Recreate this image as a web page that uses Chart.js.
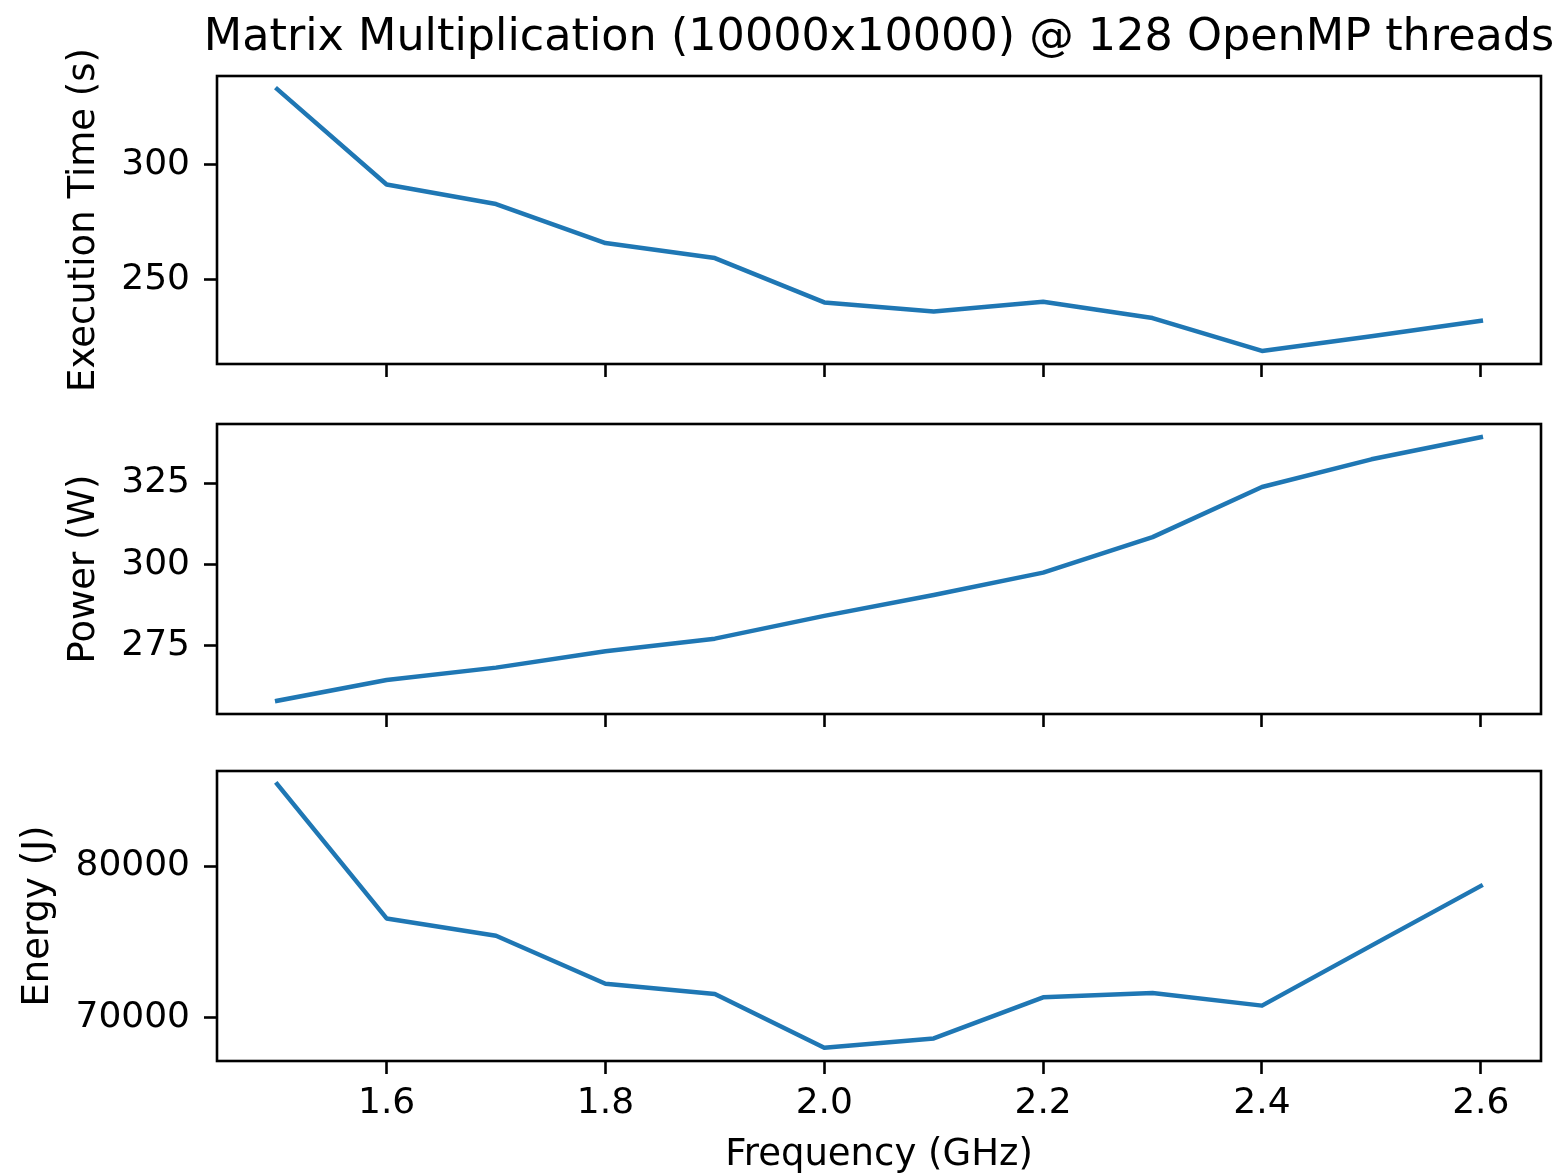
<!doctype html>
<html>

<head>
    <title>Matrix Multiplication</title>
    <script src="https://cdn.jsdelivr.net/npm/chart.js@4.4.1/dist/chart.umd.min.js"></script>
    <style>
        body {
            margin: 0;
            background: #fff;
        }

        #figure {
            position: relative;
            width: 1555px;
            height: 1174px;
        }

        #figure canvas {
            position: absolute;
            left: 0;
        }
    </style>
</head>

<body>
    <div id="figure">
        <canvas id="timeChart" width="1555" height="394" style="top: 0px;"></canvas>
        <canvas id="powerChart" width="1555" height="350" style="top: 394px;"></canvas>
        <canvas id="energyChart" width="1555" height="430" style="top: 744px;"></canvas>
    </div>
    <script>
        // CPU frequency sweep, 12 runs
        var freqs = [1.5, 1.6, 1.7, 1.8, 1.9, 2.0, 2.1, 2.2, 2.3, 2.4, 2.5, 2.6];
        var execTime = [332.9, 291.4, 282.9, 265.9, 259.4, 240.1, 236.1, 240.4, 233.3, 219.0, 225.4, 232.1];
        var power = [258.1, 264.5, 268.3, 273.3, 277.2, 284.2, 290.6, 297.5, 308.4, 323.8, 332.3, 339.1];
        var energy = [85414, 76535, 75395, 72217, 71533, 67980, 68599, 71316, 71600, 70770, 74737, 78684];

        var freqTicks = [1.6, 1.8, 2.0, 2.2, 2.4, 2.6];
        var timeTicks = [250, 300];
        var powerTicks = [275, 300, 325];
        var energyTicks = [70000, 80000];

        var FONT = 'DejaVu Sans';
        var TEXT = '#000';
        var BLUE = '#1f77b4';
        var PLOT_LEFT = 217;

        Chart.defaults.font.family = FONT;
        Chart.defaults.color = TEXT;

        // 5% margin on each side, like matplotlib autoscale
        function padRange(values) {
            var lo = Math.min.apply(null, values);
            var hi = Math.max.apply(null, values);
            var m = (hi - lo) * 0.05;
            return [lo - m, hi + m];
        }

        var xRange = padRange(freqs);

        // box around the plot area (all four spines)
        var frame = {
            id: 'frame',
            afterDraw: function (chart) {
                var a = chart.chartArea;
                var ctx = chart.ctx;
                ctx.save();
                ctx.strokeStyle = '#000';
                ctx.lineWidth = 2.6;
                ctx.strokeRect(a.left, a.top, a.right - a.left, a.bottom - a.top);
                ctx.restore();
            }
        };

        // figure title, centred over the top axes
        var figTitle = {
            id: 'figTitle',
            afterDraw: function (chart) {
                var a = chart.chartArea;
                var ctx = chart.ctx;
                ctx.save();
                ctx.fillStyle = TEXT;
                ctx.font = '44.5px "' + FONT + '"';
                ctx.textAlign = 'center';
                ctx.textBaseline = 'alphabetic';
                ctx.fillText('Matrix Multiplication (10000x10000) @ 128 OpenMP threads', (a.left + a.right) / 2, 50);
                ctx.restore();
            }
        };

        function tickGrid() {
            return {
                display: true,
                drawOnChartArea: false,
                drawTicks: true,
                tickLength: 13,
                tickWidth: 2.6,
                tickColor: '#000'
            };
        }

        function makePanel(id, yLabel, values, yTicks, opts) {
            var yRange = padRange(values);
            var points = freqs.map(function (f, i) {
                return { x: f, y: values[i] };
            });
            var yLeft = opts.left;

            return new Chart(document.getElementById(id).getContext('2d'), {
                type: 'line',
                data: {
                    datasets: [{
                        data: points,
                        borderColor: BLUE,
                        borderWidth: 4.5,
                        borderCapStyle: 'square',
                        borderJoinStyle: 'round',
                        pointRadius: 0,
                        tension: 0,
                        fill: false
                    }]
                },
                options: {
                    responsive: false,
                    animation: false,
                    devicePixelRatio: 1,
                    layout: {
                        padding: {
                            top: opts.top,
                            left: yLeft,
                            right: 14,
                            bottom: opts.bottom
                        }
                    },
                    plugins: {
                        legend: { display: false },
                        tooltip: { enabled: false }
                    },
                    scales: {
                        x: {
                            type: 'linear',
                            min: xRange[0],
                            max: xRange[1],
                            border: { display: false },
                            grid: tickGrid(),
                            afterBuildTicks: function (scale) {
                                scale.ticks = freqTicks.map(function (v) { return { value: v }; });
                            },
                            afterFit: function (scale) {
                                scale.height = opts.xHeight;
                                scale.paddingLeft = 0;
                                scale.paddingRight = 0;
                            },
                            ticks: {
                                display: opts.showX,
                                padding: 8,
                                maxRotation: 0,
                                autoSkip: false,
                                font: { size: 36 },
                                color: TEXT,
                                callback: function (v) { return Number(v).toFixed(1); }
                            },
                            title: {
                                display: opts.showX,
                                text: 'Frequency (GHz)',
                                font: { size: 37, lineHeight: 1.0 },
                                color: TEXT,
                                padding: { top: 0, bottom: 0 }
                            }
                        },
                        y: {
                            type: 'linear',
                            min: yRange[0],
                            max: yRange[1],
                            border: { display: false },
                            grid: tickGrid(),
                            afterBuildTicks: function (scale) {
                                scale.ticks = yTicks.map(function (v) { return { value: v }; });
                            },
                            afterFit: function (scale) {
                                scale.width = PLOT_LEFT - yLeft;
                                scale.paddingTop = 0;
                                scale.paddingBottom = 0;
                            },
                            ticks: {
                                padding: 14,
                                font: { size: 36 },
                                color: TEXT,
                                callback: function (v) { return String(v); }
                            },
                            title: {
                                display: true,
                                text: yLabel,
                                font: { size: 37, lineHeight: 1.2 },
                                color: TEXT,
                                padding: 0
                            }
                        }
                    }
                },
                plugins: opts.plugins
            });
        }

        window.onload = function () {
            makePanel('timeChart', 'Execution Time (s)', execTime, timeTicks, {
                top: 76, bottom: 17, left: 62, showX: false, xHeight: 13, plugins: [frame, figTitle]
            });
            makePanel('powerChart', 'Power (W)', power, powerTicks, {
                top: 30, bottom: 17, left: 62, showX: false, xHeight: 13, plugins: [frame]
            });
            makePanel('energyChart', 'Energy (J)', energy, energyTicks, {
                top: 27, bottom: 0, left: 16, showX: true, xHeight: 113, plugins: [frame]
            });
        };
    </script>
</body>

</html>
